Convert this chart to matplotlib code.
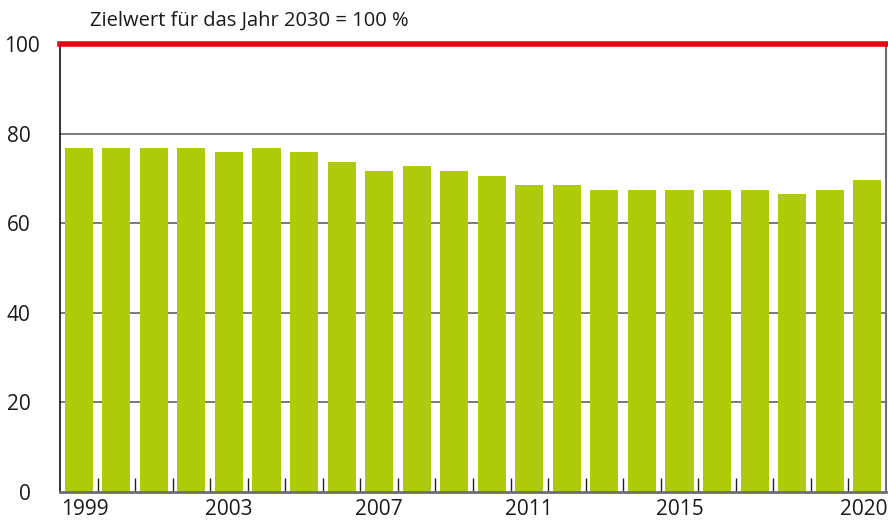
import matplotlib
matplotlib.use("Agg")
import matplotlib.pyplot as plt
import matplotlib.transforms as mtransforms
import numpy as np

# Anteil je Jahr, Zielwert 2030 = 100
years = list(range(1999, 2021))
values = [76.8, 76.8, 76.8, 76.8, 75.9, 76.8, 75.9, 73.7, 71.7, 72.8, 71.7,
          70.5, 68.5, 68.5, 67.4, 67.4, 67.4, 67.4, 67.4, 66.5, 67.4, 69.6]
labelled_years = [1999, 2003, 2007, 2011, 2015, 2020]
y_ticks = [0, 20, 40, 60, 80, 100]
target = 100
title = "Zielwert für das Jahr 2030 = 100 %"

GREEN = "#afca0b"
RED = "#e30613"
GRID = "#555555"
SPINE_GREY = "#6e6e6e"
TEXT = "#1a1a1a"

plt.rcParams["font.family"] = ["Open Sans", "DejaVu Sans"]

fig = plt.figure(figsize=(8.88, 5.2), dpi=100)
ax = fig.add_axes([60 / 888, 1 - 492 / 520, 826 / 888, 448 / 520])

x = np.arange(len(years))
ax.bar(x, values, width=0.75, color=GREEN, zorder=2)

ax.set_xlim(-0.5, len(years) - 0.5)
ax.set_ylim(0, 100)

# Gitterlinien hinter den Balken, Ziellinie rot
for yv in y_ticks[1:-1]:
    ax.axhline(yv, color=GRID, linewidth=1.1, zorder=1)
ax.axhline(target, color=RED, linewidth=4, zorder=3, clip_on=False)

ax.set_yticks(y_ticks)
ax.set_yticklabels([str(v) for v in y_ticks], fontsize=15, color=TEXT)
ax.tick_params(axis="y", length=0, pad=21)
for lbl in ax.get_yticklabels():
    if lbl.get_text() == "100":
        lbl.set_transform(lbl.get_transform() + mtransforms.ScaledTranslation(9 / 100, 0, fig.dpi_scale_trans))

# Striche zwischen den Balken, Beschriftung unter ausgewählten Jahren
ax.set_xticks(x[:-1] + 0.5, minor=True)
ax.tick_params(axis="x", which="minor", direction="in", length=10, width=1, color="#222222")
ax.set_xticks([years.index(y) for y in labelled_years])
ax.set_xticklabels([str(y) for y in labelled_years], fontsize=15, color=TEXT)
ax.tick_params(axis="x", which="major", length=0, pad=5)
label_shift = {"1999": 6, "2020": -3}
for lbl in ax.get_xticklabels():
    dx = label_shift.get(lbl.get_text(), 0)
    if dx:
        lbl.set_transform(lbl.get_transform() + mtransforms.ScaledTranslation(dx / 100, 0, fig.dpi_scale_trans))

ax.spines["top"].set_visible(False)
ax.spines["left"].set_color("#111111")
ax.spines["left"].set_linewidth(1.2)
ax.spines["bottom"].set_color(SPINE_GREY)
ax.spines["bottom"].set_linewidth(2)
ax.spines["right"].set_color(SPINE_GREY)
ax.spines["right"].set_linewidth(1.5)

fig.text(90 / 888, 1 - 21 / 520, title, fontsize=14.5, color=TEXT, ha="left", va="center")

fig.savefig("out.png", dpi=100, facecolor="white")
